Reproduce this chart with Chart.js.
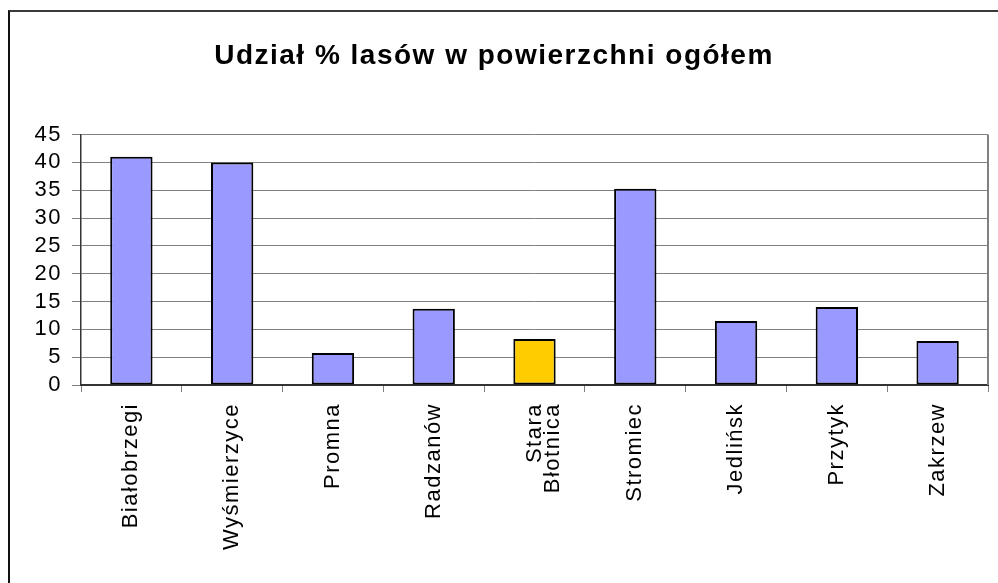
<!DOCTYPE html>
<html>
<head>
<meta charset="utf-8">
<script src="https://cdn.jsdelivr.net/npm/chart.js@4/dist/chart.umd.min.js"></script>
<style>
html, body { margin: 0; padding: 0; background: #fff; overflow: hidden; }
#wrap { position: relative; width: 998px; height: 583px; overflow: hidden; }
#frame { position: absolute; left: 8px; top: 10px; width: 1000px; height: 600px;
         border-left: 2px solid #111; border-top: 2px solid #3a3a3a; pointer-events: none; }
canvas { position: absolute; left: 0; top: 0; }
</style>
</head>
<body>
<div id="wrap">
  <canvas id="c" width="998" height="583"></canvas>
  <div id="frame"></div>
</div>
<script>
// ---- data ----
const titleText = 'Udział % lasów w powierzchni ogółem';
const categories = ['Białobrzegi', 'Wyśmierzyce', 'Promna', 'Radzanów', ['Stara', 'Błotnica'],
                    'Stromiec', 'Jedlińsk', 'Przytyk', 'Zakrzew'];
const forestShare = [41.0, 40.0, 5.75, 13.7, 8.25, 35.25, 11.5, 14.0, 7.9];
const highlighted = [false, false, false, false, true, false, false, false, false];
const yTicks = [0, 5, 10, 15, 20, 25, 30, 35, 40, 45];

const FONT = '"Liberation Sans", Arial, sans-serif';
const baseColor = '#9999FF';
const highlightColor = '#FFCC00';

const spacingPlugin = {
  id: 'spacing',
  beforeDraw(chart) { chart.ctx.letterSpacing = '1.5px'; }
};
const plotEdgePlugin = {
  id: 'plotEdge',
  afterDraw(chart) {
    const { ctx, chartArea: a } = chart;
    ctx.save();
    ctx.strokeStyle = '#808080';
    ctx.lineWidth = 2;
    ctx.beginPath();
    ctx.moveTo(a.right, a.top);
    ctx.lineTo(a.right, a.bottom);
    ctx.stroke();
    ctx.restore();
  }
};

new Chart(document.getElementById('c'), {
  type: 'bar',
  data: {
    labels: categories,
    datasets: [{
      data: forestShare,
      backgroundColor: highlighted.map(h => h ? highlightColor : baseColor),
      borderColor: '#000',
      borderWidth: 2,
      borderSkipped: false,
      barPercentage: 0.42,
      categoryPercentage: 1
    }]
  },
  options: {
    responsive: false,
    devicePixelRatio: 1,
    animation: false,
    layout: { padding: { left: 0, right: 10, top: 0, bottom: 0 } },
    plugins: {
      legend: { display: false },
      tooltip: { enabled: false },
      title: {
        display: true,
        text: titleText,
        color: '#000',
        font: { family: FONT, size: 28, weight: 'bold', lineHeight: 1.2 },
        padding: { top: 39, bottom: 62 }
      }
    },
    scales: {
      x: {
        grid: { offset: true, drawOnChartArea: false, drawTicks: true, tickLength: 7, color: '#808080', lineWidth: 1 },
        border: { color: '#333', width: 2 },
        ticks: { color: '#000', font: { family: FONT, size: 22, lineHeight: 0.85 },
                 minRotation: 90, maxRotation: 90, autoSkip: false, padding: 11 },
        afterFit(s) { s.height = 198; }
      },
      y: {
        min: 0, max: 45,
        afterBuildTicks(s) { s.ticks = yTicks.map(v => ({ value: v })); },
        grid: { color: '#808080', lineWidth: 1, tickLength: 9 },
        border: { color: '#333', width: 1.5 },
        ticks: { color: '#000', font: { family: FONT, size: 22 }, padding: 10, autoSkip: false },
        afterFit(s) { s.width = 81; }
      }
    }
  },
  plugins: [spacingPlugin, plotEdgePlugin]
});
</script>
</body>
</html>
